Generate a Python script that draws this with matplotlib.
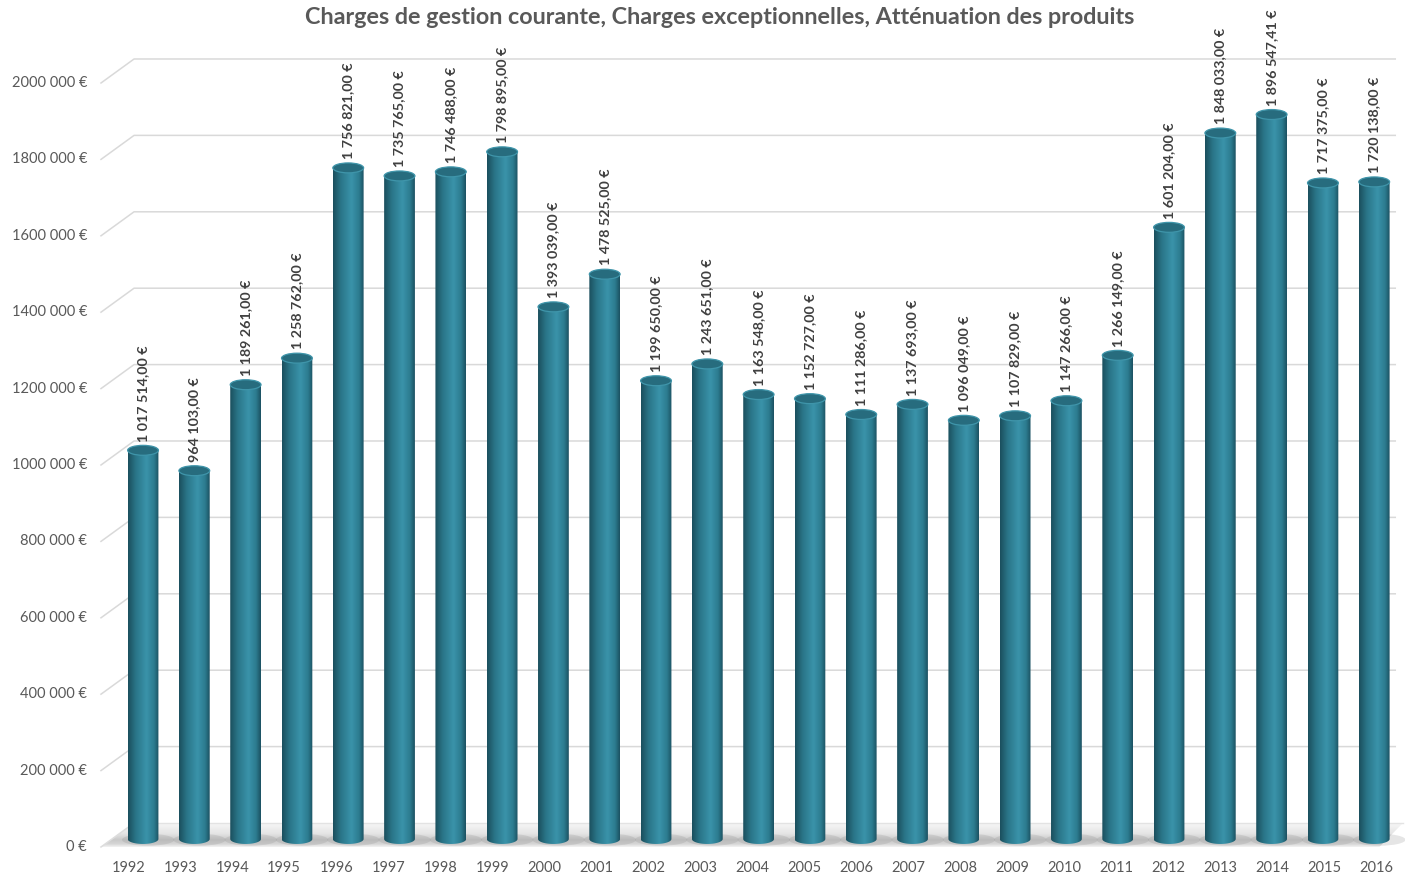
import numpy as np
import matplotlib
matplotlib.use("Agg")
import matplotlib.pyplot as plt
from matplotlib.patches import Ellipse, Polygon
from matplotlib.path import Path
from matplotlib.colors import to_rgb

plt.rcParams['font.family'] = ['Lato', 'DejaVu Sans']

years = list(range(1992, 2017))
values = [1017514.00, 964103.00, 1189261.00, 1258762.00, 1756821.00,
          1735765.00, 1746488.00, 1798895.00, 1393039.00, 1478525.00,
          1199650.00, 1243651.00, 1163548.00, 1152727.00, 1111286.00,
          1137693.00, 1096049.00, 1107829.00, 1147266.00, 1266149.00,
          1601204.00, 1848033.00, 1896547.41, 1717375.00, 1720138.00]
labels = ["1 017 514,00 €", "964 103,00 €", "1 189 261,00 €", "1 258 762,00 €",
          "1 756 821,00 €", "1 735 765,00 €", "1 746 488,00 €", "1 798 895,00 €",
          "1 393 039,00 €", "1 478 525,00 €", "1 199 650,00 €", "1 243 651,00 €",
          "1 163 548,00 €", "1 152 727,00 €", "1 111 286,00 €", "1 137 693,00 €",
          "1 096 049,00 €", "1 107 829,00 €", "1 147 266,00 €", "1 266 149,00 €",
          "1 601 204,00 €", "1 848 033,00 €", "1 896 547,41 €", "1 717 375,00 €",
          "1 720 138,00 €"]
yticks = [0, 200000, 400000, 600000, 800000, 1000000, 1200000, 1400000,
          1600000, 1800000, 2000000]
ytick_labels = ["0 €", "200 000 €", "400 000 €", "600 000 €", "800 000 €",
                "1000 000 €", "1200 000 €", "1400 000 €", "1600 000 €",
                "1800 000 €", "2000 000 €"]
title = "Charges de gestion courante, Charges exceptionnelles, Atténuation des produits"

# pseudo 3d geometry (in data units)
back_dy = 41900      # back wall offset
front_dy = -20900    # front plane offset
back_x0, front_x0, back_x1 = -0.175, -0.819, 24.41
bw = 0.60            # cylinder width
eh = 26000           # ellipse height


def gradient(stops, n=64):
    xs = np.linspace(0, 1, n)
    g = np.zeros((n, 3))
    for k in range(3):
        g[:, k] = np.interp(xs, [s[0] for s in stops], [to_rgb(s[1])[k] for s in stops])
    return g


fig = plt.figure(figsize=(14.05, 8.74), dpi=100)
ax = fig.add_axes([0, 0, 1, 1])
xlim = (-2.788, 24.60)
ylim = (-91623, 2196335)

# floor with vertical shading
floor_pts = [(front_x0, front_dy), (24.1, front_dy), (24.56, back_dy), (back_x0, back_dy)]
floor = Polygon(floor_pts, closed=True, facecolor='none', edgecolor='none')
ax.add_patch(floor)
fg = gradient([(0.0, '#f2f2f2'), (0.12, '#d6d6d6'), (0.3, '#c9c9c9'),
               (0.55, '#e4e4e4'), (1.0, '#f7f7f7')])
fim = ax.imshow(fg[::-1, None, :], extent=[front_x0, 24.56, front_dy, back_dy],
                aspect='auto', zorder=1, interpolation='bilinear')
fim.set_clip_path(floor)
ax.plot([back_x0, 24.56], [back_dy, back_dy], color='#e3e3e3', lw=1, zorder=1)

# gridlines
for t in yticks[1:]:
    ax.plot([front_x0, back_x0, back_x1], [t + front_dy, t + back_dy, t + back_dy],
            color='#d9d9d9', lw=1.1, zorder=0)
ax.plot([front_x0, back_x0], [front_dy, back_dy], color='#dddddd', lw=1.1, zorder=1)

for t, lab in zip(yticks, ytick_labels):
    ax.text(-1.09, t + front_dy, lab, ha='right', va='center', fontsize=10.5, color='#595959')

# cylinder gradient across width
grad = gradient([(0.0, '#1b4f5e'), (0.25, '#2a7588'), (0.6, '#3a93aa'),
                 (0.85, '#2c7b8f'), (1.0, '#1c5262')])[None, :, :]

theta = np.linspace(np.pi, 2 * np.pi, 40)
for i, (v, lab) in enumerate(zip(values, labels)):
    # floor shadow
    ax.add_patch(Ellipse((i + 0.10, -2000), bw * 1.7, eh * 1.2, facecolor='#8a8a8a',
                         alpha=0.22, edgecolor='none', zorder=2))
    left, right = i - bw / 2, i + bw / 2
    verts = [(left, v)] + [(i + bw / 2 * np.cos(a), eh / 2 * np.sin(a)) for a in theta] + [(right, v), (left, v)]
    body = Path(verts)
    im = ax.imshow(grad, extent=[left, right, -eh, v], aspect='auto', zorder=3,
                   interpolation='bilinear')
    im.set_clip_path(body, transform=ax.transData)
    ax.add_patch(Ellipse((i, v), bw, eh, facecolor='#276c7e', edgecolor='#3f95aa',
                         lw=0.9, zorder=4))
    ax.text(i, v + eh / 2 + 10000, lab, rotation=90, ha='center', va='bottom',
            fontsize=10.3, fontweight='bold', color='#404040', zorder=5)

for i, y in enumerate(years):
    ax.text(i * 1.0136 - 0.29, -75900, str(y), ha='center', va='center',
            fontsize=10.5, color='#595959')

ax.text(11.25, 2150000, title, ha='center', va='center', fontsize=16.8,
        fontweight='bold', color='#595959')

ax.set_xlim(*xlim)
ax.set_ylim(*ylim)
ax.axis('off')
fig.savefig("out.png", dpi=100)
